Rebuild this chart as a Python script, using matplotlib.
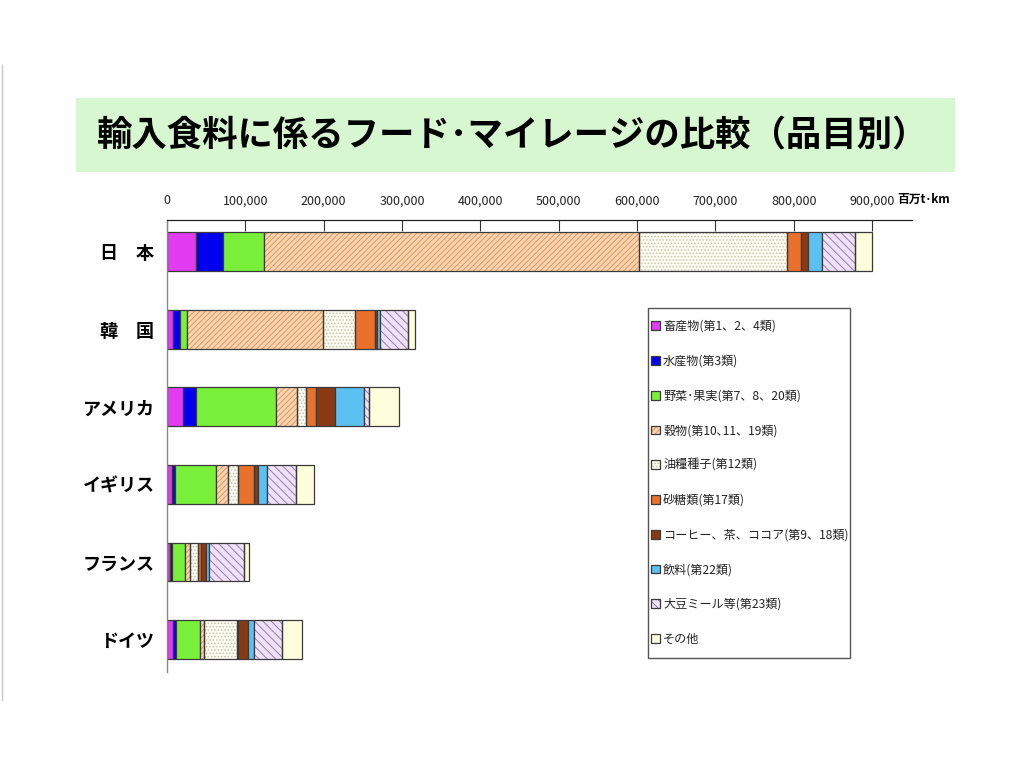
import matplotlib
matplotlib.use("Agg")
import matplotlib.pyplot as plt
import numpy as np
from matplotlib.patches import Patch, Rectangle
from matplotlib.lines import Line2D
from matplotlib.legend_handler import HandlerTuple

plt.rcParams['font.family'] = ['Noto Sans CJK JP', 'DejaVu Sans']
plt.rcParams['hatch.linewidth'] = 0.7

title = "輸入食料に係るフード･マイレージの比較（品目別）"
countries = ["日　本", "韓　国", "アメリカ", "イギリス", "フランス", "ドイツ"]
categories = ["畜産物(第1、2、4類)", "水産物(第3類)", "野菜･果実(第7、8、20類)",
              "穀物(第10､11、19類)", "油糧種子(第12類)", "砂糖類(第17類)",
              "コーヒー、茶、ココア(第9、18類)", "飲料(第22類)",
              "大豆ミール等(第23類)", "その他"]

# values in million t-km, per category, order of countries above
livestock = [36550, 7650, 20400, 6800, 4300, 7700]
fishery   = [35370, 8500, 16200, 3000, 2500, 3400]
vegfruit  = [51290, 9350, 102100, 52300, 16200, 31500]
grain     = [479290, 173500, 27700, 15700, 6000, 4300]
oilseed   = [188630, 40400, 10600, 13200, 10600, 42500]
sugar     = [17690, 25500, 12800, 20000, 4300, 900]
coffee    = [10020, 3000, 25100, 5500, 5500, 13200]
beverage  = [17690, 3400, 36200, 11500, 4300, 7200]
soymeal   = [41860, 36100, 6400, 37000, 44700, 36600]
other     = [21820, 9800, 38300, 22500, 6400, 25500]

xticks = [0, 100000, 200000, 300000, 400000, 500000, 600000, 700000, 800000, 900000]
unit_label = "百万t･km"

series = [livestock, fishery, vegfruit, grain, oilseed, sugar, coffee, beverage, soymeal, other]
faces   = ['#E23CF2', '#0000EE', '#79F03A', '#FBD5B2', '#FCFBF2', '#E8722C',
           '#8A3A12', '#5CC0F0', '#EFE2F6', '#FFFEDC']
hatches = [None, None, None, '//////', '.....', None, None, None, '\\\\\\\\', None]
hcols   = [None, None, None, '#E0965A', '#C8C4A8', None, None, None, '#9A78BC', None]

fig = plt.figure(figsize=(10.24, 7.68), dpi=100)
fig.patch.set_facecolor('white')

# title box
fig.patches.append(Rectangle((76/1024, 1-172/768), (955-76)/1024, (172-98)/768,
                             transform=fig.transFigure, facecolor='#D7F7D0',
                             edgecolor='none', zorder=0))
fig.text(513/1024, 1-136/768, title, ha='center', va='center',
         fontsize=25.5, fontweight='bold', color='black')
fig.lines.append(Line2D([1.5/1024, 1.5/1024], [1-65/768, 1-700/768],
                        transform=fig.transFigure, color='#c8c8c8', lw=1))

ax = fig.add_axes([167/1024, 1-672/768, (912-167)/1024, (672-220)/768])
y = np.arange(len(countries))
left = np.zeros(len(countries))
handles = []
for vals, fc, h, hc, lab in zip(series, faces, hatches, hcols, categories):
    vals = np.array(vals, dtype=float)
    if h:
        ax.barh(y, vals, left=left, height=0.5, facecolor=fc, hatch=h,
                edgecolor=hc, linewidth=0, zorder=2)
        ax.barh(y, vals, left=left, height=0.5, facecolor='none',
                edgecolor='#3a3a3a', linewidth=0.9, zorder=3)
        hp = Patch(facecolor=fc, hatch=h, edgecolor=hc, linewidth=0)
        op = Patch(facecolor='none', edgecolor='#3a3a3a', linewidth=0.9)
        handles.append((hp, op))
    else:
        ax.barh(y, vals, left=left, height=0.5, facecolor=fc,
                edgecolor='#3a3a3a', linewidth=0.9, zorder=2)
        handles.append(Patch(facecolor=fc, edgecolor='#3a3a3a', linewidth=0.9))
    left += vals

ax.set_ylim(5.42, -0.41)
ax.set_xlim(0, 951000)
ax.set_yticks(y)
ax.set_yticklabels(countries, fontsize=13, fontweight='bold')
ax.set_xticks(xticks)
ax.set_xticklabels([f"{v:,}" for v in xticks], fontsize=9, color='#222222')
ax.xaxis.set_ticks_position('top')
ax.tick_params(axis='x', top=True, bottom=False, labeltop=True, labelbottom=False,
               direction='in', length=8, width=0.8, pad=9, color='#333333')
ax.tick_params(axis='y', length=0, pad=9)
for s in ['right', 'bottom']:
    ax.spines[s].set_visible(False)
ax.spines['top'].set_color('#222222')
ax.spines['top'].set_linewidth(0.9)
ax.spines['left'].set_color('#888888')
ax.spines['left'].set_linewidth(1.0)

fig.text(897/1024, 1-199/768, unit_label, ha='left', va='center',
         fontsize=8.5, fontweight='bold')

# legend frame drawn separately
fig.patches.append(Rectangle((648/1024, 1-658/768), (850-648)/1024, (658-308)/768,
                             transform=fig.transFigure, facecolor='white',
                             edgecolor='#555555', linewidth=1.0, zorder=4))
leg = fig.legend(handles, categories, loc='upper left',
                 bbox_to_anchor=(651/1024, 1-320/768),
                 handler_map={tuple: HandlerTuple(ndivide=1)},
                 frameon=False, fontsize=8.7, handlelength=0.75, handleheight=0.75,
                 handletextpad=0.25, labelspacing=1.8, borderpad=0,
                 borderaxespad=0)
leg.set_zorder(5)
for t in leg.get_texts():
    t.set_color('#222222')

fig.savefig("out.png", dpi=100)
